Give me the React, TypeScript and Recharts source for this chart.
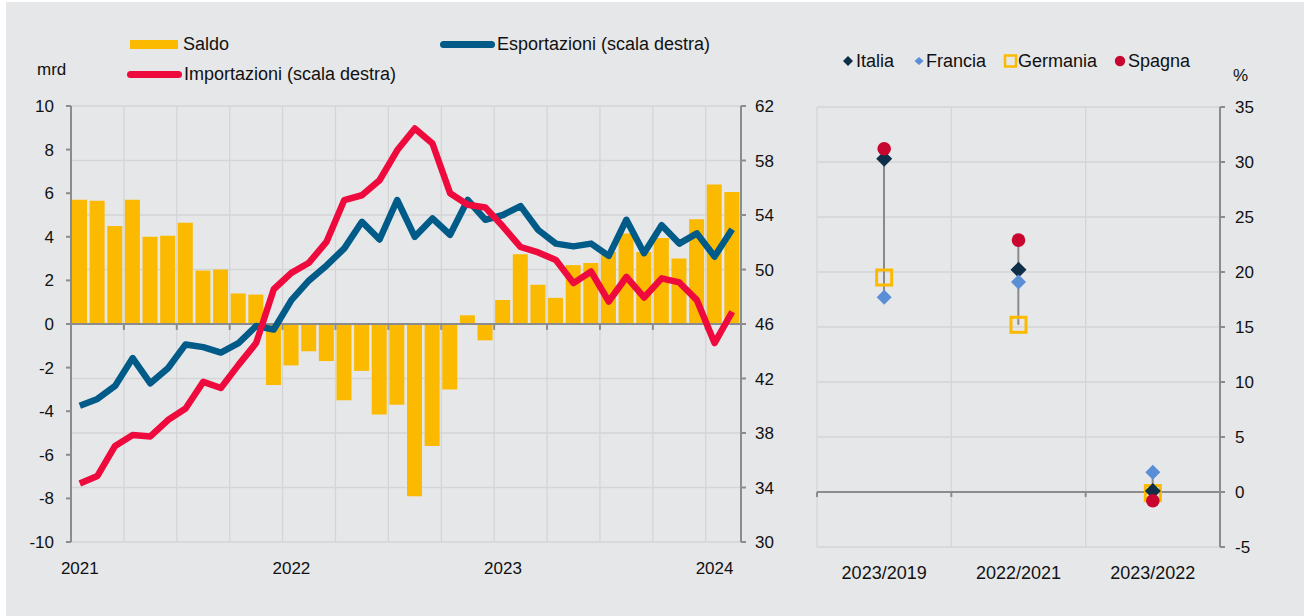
import React from "react";
import { ComposedChart, Bar, Line, XAxis, YAxis, CartesianGrid, ReferenceLine } from "recharts";

// monthly trade balance (mrd) and flows (right scale)
const months = [
  "2021-01", "2021-02", "2021-03", "2021-04", "2021-05", "2021-06",
  "2021-07", "2021-08", "2021-09", "2021-10", "2021-11", "2021-12",
  "2022-01", "2022-02", "2022-03", "2022-04", "2022-05", "2022-06",
  "2022-07", "2022-08", "2022-09", "2022-10", "2022-11", "2022-12",
  "2023-01", "2023-02", "2023-03", "2023-04", "2023-05", "2023-06",
  "2023-07", "2023-08", "2023-09", "2023-10", "2023-11", "2023-12",
  "2024-01", "2024-02"
];
const saldo = [
  5.7, 5.65, 4.5, 5.7, 4.0, 4.05, 4.65, 2.45, 2.5, 1.4, 1.35, -2.8,
  -1.9, -1.25, -1.7, -3.5, -2.15, -4.15, -3.7, -7.9, -5.6, -3.0, 0.4, -0.75,
  1.1, 3.2, 1.8, 1.2, 2.7, 2.8, 3.3, 4.15, 3.3, 3.95, 3.0, 4.8,
  6.4, 6.05
];
const esportazioni = [
  40.0, 40.5, 41.45, 43.5, 41.65, 42.75, 44.5, 44.3, 43.9, 44.6, 45.85, 45.6,
  47.75, 49.2, 50.3, 51.55, 53.5, 52.2, 55.1, 52.4, 53.75, 52.55, 55.1, 53.65,
  54.0, 54.65, 52.9, 51.9, 51.7, 51.9, 51.0, 53.65, 51.2, 53.25, 51.9, 52.65,
  50.95, 52.95
];
const importazioni = [
  34.3, 34.85, 37.05, 37.85, 37.75, 38.95, 39.8, 41.75, 41.3, 43.0, 44.6, 48.55,
  49.75, 50.5, 52.05, 55.1, 55.45, 56.55, 58.75, 60.35, 59.25, 55.6, 54.75, 54.55,
  53.15, 51.65, 51.25, 50.7, 49.0, 49.85, 47.65, 49.45, 47.95, 49.35, 49.05, 47.75,
  44.6, 46.9
];

// percentage changes by country
const periodi = ["2023/2019", "2022/2021", "2023/2022"];
const italia = [30.3, 20.2, 0.1];
const francia = [17.7, 19.1, 1.8];
const germania = [19.5, 15.2, -0.1];
const spagna = [31.2, 22.9, -0.8];

const leftTicks = [-10, -8, -6, -4, -2, 0, 2, 4, 6, 8, 10];
const rightTicks = [30, 34, 38, 42, 46, 50, 54, 58, 62];
const pctTicks = [-5, 0, 5, 10, 15, 20, 25, 30, 35];

const FONT = "'Liberation Sans', Arial, Helvetica, sans-serif";
const BG = "#E6E7E9";
const AXIS = "#8C8C8C";
const GRID = "#D4D5D7";
const YELLOW = "#FBBA00";
const BLUE = "#005B88";
const RED = "#EF0A3D";
const NAVY = "#0E2F47";
const LIGHTBLUE = "#5A8FD8";
const SPAIN = "#C8052E";

const tradeData = months.map((m, i) => ({
  x: i + 0.5,
  month: m,
  saldo: saldo[i],
  exp: esportazioni[i],
  imp: importazioni[i],
}));
const yearTicks = tradeData.filter((d) => d.month.endsWith("-01")).map((d) => d.x);
const quarterBounds = months.map((_, i) => i).filter((i) => i % 3 === 0);

const cmpData = periodi.map((p, i) => {
  const vals = [italia[i], francia[i], germania[i], spagna[i]];
  return {
    x: i + 0.5,
    periodo: p,
    italia: italia[i],
    francia: francia[i],
    germania: germania[i],
    spagna: spagna[i],
    low: Math.min(...vals),
    high: Math.max(...vals),
  };
});
const cmpBounds = [0, 1, 2, 3];

const diamond = (color: string, r: number) => (props: any) => {
  const { cx, cy, index } = props;
  if (cx == null || cy == null) return <g key={`d-${index}`} />;
  return (
    <polygon
      key={`d-${index}`}
      points={`${cx},${cy - r} ${cx + r},${cy} ${cx},${cy + r} ${cx - r},${cy}`}
      fill={color}
    />
  );
};

const square = (props: any) => {
  const { cx, cy, index } = props;
  if (cx == null || cy == null) return <g key={`s-${index}`} />;
  return (
    <rect key={`s-${index}`} x={cx - 7.5} y={cy - 7.5} width={15} height={15}
      fill="none" stroke={YELLOW} strokeWidth={3} />
  );
};

const circle = (props: any) => {
  const { cx, cy, index } = props;
  if (cx == null || cy == null) return <g key={`c-${index}`} />;
  return <circle key={`c-${index}`} cx={cx} cy={cy} r={6.8} fill={SPAIN} />;
};

const tickStyle = { fill: "#111", fontSize: 17, fontFamily: FONT };
const txt: React.CSSProperties = {
  position: "absolute",
  fontFamily: FONT,
  fontSize: 18,
  color: "#111",
  lineHeight: "20px",
  whiteSpace: "nowrap",
};

function TradeChart() {
  return (
    <ComposedChart
      width={790}
      height={600}
      data={tradeData}
      margin={{ top: 106, right: 9, bottom: 28, left: 31 }}
    >
      <CartesianGrid xAxisId="grid" yAxisId="right" stroke={GRID} strokeWidth={1.3} />
      <XAxis xAxisId="grid" orientation="top" type="number" dataKey="x" domain={[0, 38]}
        ticks={quarterBounds} hide />
      <XAxis
        xAxisId="main"
        type="number"
        dataKey="x"
        domain={[0, 38]}
        ticks={yearTicks}
        tickFormatter={(v) => months[Math.floor(v)].slice(0, 4)}
        axisLine={false}
        tickLine={false}
        tickSize={0}
        tickMargin={20}
        tick={tickStyle}
        interval={0}
      />
      <YAxis
        yAxisId="left"
        domain={[-10, 10]}
        ticks={leftTicks}
        width={40}
        axisLine={{ stroke: AXIS, strokeWidth: 2 }}
        tickLine={{ stroke: AXIS, strokeWidth: 2 }}
        tickSize={5}
        tickMargin={12}
        tick={tickStyle}
        interval={0}
      />
      <YAxis
        yAxisId="right"
        orientation="right"
        domain={[30, 62]}
        ticks={rightTicks}
        width={40}
        axisLine={{ stroke: AXIS, strokeWidth: 2 }}
        tickLine={{ stroke: AXIS, strokeWidth: 2 }}
        tickSize={5}
        tickMargin={9}
        tick={tickStyle}
        interval={0}
      />
      <Bar xAxisId="main" yAxisId="left" dataKey="saldo" fill={YELLOW} barSize={15} isAnimationActive={false} />
      <ReferenceLine xAxisId="main" yAxisId="left" y={0} stroke={AXIS} strokeWidth={2} />
      {quarterBounds.filter((q) => q > 0).map((q) => (
        <ReferenceLine
          key={`qt-${q}`}
          xAxisId="main"
          yAxisId="left"
          segment={[{ x: q, y: 0 }, { x: q, y: -0.27 }]}
          stroke={AXIS}
          strokeWidth={2}
        />
      ))}
      <Line xAxisId="main" yAxisId="right" dataKey="exp" stroke={BLUE} strokeWidth={6.5}
        dot={false} strokeLinejoin="round" isAnimationActive={false} />
      <Line xAxisId="main" yAxisId="right" dataKey="imp" stroke={RED} strokeWidth={6.5}
        dot={false} strokeLinejoin="round" isAnimationActive={false} />
    </ComposedChart>
  );
}

function CompareChart() {
  return (
    <ComposedChart
      width={520}
      height={600}
      data={cmpData}
      margin={{ top: 107, right: 30, bottom: 23, left: 37 }}
    >
      <CartesianGrid xAxisId="grid" yAxisId="pct" stroke={GRID} strokeWidth={1.3} />
      <XAxis xAxisId="grid" orientation="top" type="number" dataKey="x" domain={[0, 3]}
        ticks={cmpBounds} hide />
      <XAxis
        xAxisId="main"
        type="number"
        dataKey="x"
        domain={[0, 3]}
        ticks={cmpData.map((d) => d.x)}
        tickFormatter={(v) => periodi[Math.floor(v)]}
        axisLine={false}
        tickLine={false}
        tickSize={0}
        tickMargin={19}
        tick={{ ...tickStyle, fontSize: 18 }}
        interval={0}
      />
      <YAxis
        yAxisId="pct"
        orientation="right"
        domain={[-5, 35]}
        ticks={pctTicks}
        width={50}
        axisLine={{ stroke: AXIS, strokeWidth: 2 }}
        tickLine={{ stroke: AXIS, strokeWidth: 2 }}
        tickSize={5}
        tickMargin={10}
        tick={tickStyle}
        interval={0}
      />
      <ReferenceLine xAxisId="main" yAxisId="pct" y={0} stroke={AXIS} strokeWidth={2} />
      {cmpBounds.slice(0, 3).map((b) => (
        <ReferenceLine
          key={`ct-${b}`}
          xAxisId="main"
          yAxisId="pct"
          segment={[{ x: b, y: 0 }, { x: b, y: -0.45 }]}
          stroke={AXIS}
          strokeWidth={2}
        />
      ))}
      <Bar xAxisId="main" yAxisId="pct" dataKey={(d: any) => [d.low, d.high]} fill="#8A8A8A"
        barSize={2} isAnimationActive={false} />
      <Line xAxisId="main" yAxisId="pct" dataKey="germania" stroke="none" dot={square}
        activeDot={false} isAnimationActive={false} />
      <Line xAxisId="main" yAxisId="pct" dataKey="italia" stroke="none" dot={diamond(NAVY, 8)}
        activeDot={false} isAnimationActive={false} />
      <Line xAxisId="main" yAxisId="pct" dataKey="francia" stroke="none" dot={diamond(LIGHTBLUE, 7.5)}
        activeDot={false} isAnimationActive={false} />
      <Line xAxisId="main" yAxisId="pct" dataKey="spagna" stroke="none" dot={circle}
        activeDot={false} isAnimationActive={false} />
    </ComposedChart>
  );
}

export default function App() {
  return (
    <div style={{ position: "absolute", left: 0, top: 0, width: 1304, height: 616, background: "#fff", overflow: "hidden" }}>
      <div style={{ position: "absolute", left: 6, top: 2, right: 0, bottom: 0, background: BG }} />

      <div style={{ position: "absolute", left: 0, top: 0 }}>
        <TradeChart />
      </div>
      <div style={{ position: "absolute", left: 780, top: 0 }}>
        <CompareChart />
      </div>

      {/* left legend */}
      <div style={{ position: "absolute", left: 130, top: 40, width: 48, height: 9, background: YELLOW }} />
      <div style={{ ...txt, left: 183, top: 34 }}>Saldo</div>
      <div style={{ position: "absolute", left: 440, top: 41, width: 55, height: 7, borderRadius: 4, background: BLUE }} />
      <div style={{ ...txt, left: 497, top: 34 }}>Esportazioni (scala destra)</div>
      <div style={{ position: "absolute", left: 127, top: 71, width: 55, height: 7, borderRadius: 4, background: RED }} />
      <div style={{ ...txt, left: 184, top: 64 }}>Importazioni (scala destra)</div>
      <div style={{ ...txt, left: 37, top: 60, fontSize: 17 }}>mrd</div>

      {/* right legend */}
      <svg style={{ position: "absolute", left: 838, top: 50 }} width={290} height={24}>
        <polygon points="10,6 15,11 10,16 5,11" fill={NAVY} />
        <polygon points="81,7 85.5,11 81,15 76.5,11" fill={LIGHTBLUE} />
        <rect x={167} y={5.5} width={11} height={11} fill="none" stroke={YELLOW} strokeWidth={2.5} />
        <circle cx={282} cy={11} r={5.2} fill={SPAIN} />
      </svg>
      <div style={{ ...txt, left: 856, top: 51 }}>Italia</div>
      <div style={{ ...txt, left: 926, top: 51 }}>Francia</div>
      <div style={{ ...txt, left: 1018, top: 51 }}>Germania</div>
      <div style={{ ...txt, left: 1128, top: 51 }}>Spagna</div>
      <div style={{ ...txt, left: 1233, top: 66, fontSize: 17 }}>%</div>
    </div>
  );
}
